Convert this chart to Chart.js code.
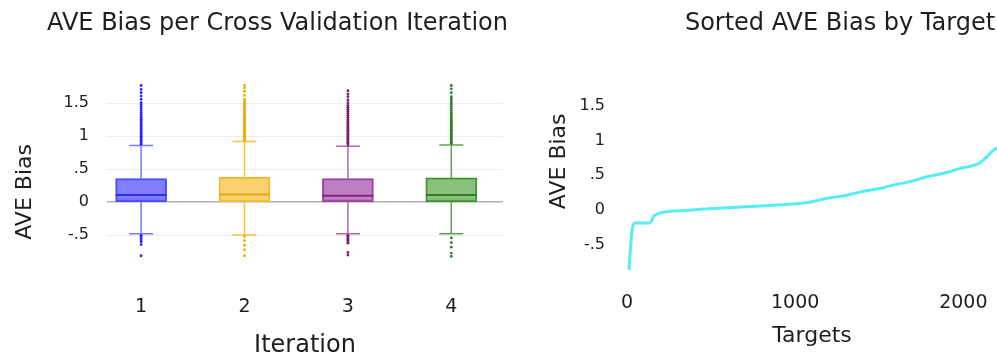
<!DOCTYPE html>
<html>
<head>
<meta charset="utf-8">
<script src="https://cdn.jsdelivr.net/npm/chart.js@4"></script>
<style>
html,body{margin:0;padding:0;background:#fff;overflow:hidden;width:997px;height:357px;}
#boxChart{position:absolute;left:0;top:0;}
#sortChart{position:absolute;left:530px;top:0;}
</style>
</head>
<body>
<canvas id="boxChart" width="555" height="357"></canvas>
<canvas id="sortChart" width="620" height="357"></canvas>
<script>
// box plot per cross validation iteration
const iterations = [1, 2, 3, 4];
const xTickLabels = ["1", "2", "3", "4"];
const q1 = [0.01, 0.01, 0.01, 0.01];
const medians = [0.11, 0.12, 0.10, 0.11];
const q3 = [0.36, 0.38, 0.36, 0.37];
const whiskerLow = [-0.475, -0.495, -0.475, -0.475];
const whiskerHigh = [0.86, 0.92, 0.85, 0.87];

const outliersIter1 = [0.88,0.9,0.92,0.94,0.96,0.98,1.0,1.02,1.04,1.06,1.08,1.1,1.12,1.14,1.16,1.18,1.2,1.22,1.24,1.26,1.28,1.3,1.33,1.36,1.39,1.42,1.45,1.48,1.51,1.56,1.61,1.66,1.71,1.77,-0.5,-0.52,-0.54,-0.57,-0.6,-0.64,-0.81];
const outliersIter2 = [0.94,0.96,0.98,1.0,1.02,1.04,1.06,1.08,1.1,1.12,1.14,1.16,1.18,1.2,1.22,1.24,1.26,1.28,1.3,1.32,1.35,1.38,1.41,1.44,1.47,1.5,1.53,1.56,1.62,1.68,1.73,1.77,-0.52,-0.58,-0.65,-0.72,-0.81];
const outliersIter3 = [0.87,0.89,0.91,0.93,0.95,0.97,0.99,1.01,1.03,1.05,1.07,1.09,1.11,1.13,1.15,1.17,1.19,1.21,1.23,1.26,1.29,1.32,1.35,1.38,1.41,1.44,1.47,1.51,1.55,1.6,1.64,1.69,-0.5,-0.52,-0.54,-0.56,-0.58,-0.6,-0.62,-0.76,-0.8];
const outliersIter4 = [0.89,0.91,0.93,0.95,0.97,0.99,1.01,1.03,1.05,1.07,1.09,1.11,1.13,1.15,1.17,1.19,1.21,1.23,1.25,1.27,1.3,1.33,1.36,1.39,1.42,1.45,1.48,1.51,1.54,1.57,1.6,1.66,1.72,1.77,-0.54,-0.61,-0.68,-0.77,-0.82];

const biasTicks = [-0.5, 0, 0.5, 1, 1.5];
const biasTickLabels = ["-.5", "0", ".5", "1", "1.5"];

// sorted bias by target
const sortedTargets = [12,16,20,24,28,34,42,48,137,147,157,170,186,210,236,300,435,600,792,990,1100,1189,1300,1387,1500,1585,1700,1784,1900,1982,2040,2082,2110,2141,2170,2200];
const sortedBias = [-0.86,-0.7,-0.58,-0.46,-0.34,-0.24,-0.195,-0.185,-0.185,-0.15,-0.1,-0.07,-0.05,-0.035,-0.025,-0.012,0.01,0.035,0.058,0.086,0.12,0.17,0.21,0.26,0.31,0.36,0.42,0.48,0.54,0.6,0.63,0.66,0.7,0.77,0.84,0.9];
const targetTicks = [0, 1000, 2000];
const targetTickLabels = ["0", "1000", "2000"];

const outliers = [outliersIter1, outliersIter2, outliersIter3, outliersIter4];
const boxFill = ["rgba(95,95,255,0.8)", "rgba(250,200,85,0.85)", "rgba(175,95,180,0.8)", "rgba(110,180,95,0.82)"];
const boxBorder = ["#4a4af5", "#f2b82c", "#963c9c", "#3f8f32"];
const medianColor = ["#3030e0", "#e0a820", "#7f237f", "#2f7f25"];
const whiskerColor = ["#7878ff", "#f5c23e", "#ad68b0", "#5da451"];
const outlierColor = ["#2626ff", "#f0a800", "#7a1a7a", "#2b8020"];

const FONT = "'DejaVu Sans', 'Liberation Sans', sans-serif";
const INK = "#1e1e1e";
Chart.defaults.font.family = FONT;
Chart.defaults.color = INK;

function boxDatasets(){
    const capHalf = 0.116;
    const boxHalf = 0.245;
    const sets = [{
        type:"bar",
        data: iterations.map((it, i) => ({x: it, y: [q1[i], q3[i]]})),
        backgroundColor: boxFill,
        borderColor: boxBorder,
        borderWidth: 1.5,
        borderSkipped: false,
        barThickness: 51,
        order: 2
    }];
    iterations.forEach((it, i) => {
        sets.push({
            type:"line",
            data:[{x: it - boxHalf, y: medians[i]}, {x: it + boxHalf, y: medians[i]}],
            borderColor: medianColor[i],
            borderWidth: 2,
            pointRadius: 0,
            order: 1
        });
        sets.push({
            type:"line",
            data:[
                {x: it, y: whiskerHigh[i]}, {x: it, y: q3[i]}, {x: it, y: null},
                {x: it, y: q1[i]}, {x: it, y: whiskerLow[i]}, {x: it, y: null},
                {x: it - capHalf, y: whiskerHigh[i]}, {x: it + capHalf, y: whiskerHigh[i]}, {x: it, y: null},
                {x: it - capHalf, y: whiskerLow[i]}, {x: it + capHalf, y: whiskerLow[i]}
            ],
            borderColor: whiskerColor[i],
            borderWidth: 1.5,
            pointRadius: 0,
            spanGaps: false,
            order: 3
        });
        sets.push({
            type:"scatter",
            data: outliers[i].map(v => ({x: it, y: v})),
            pointRadius: 1.4,
            pointBackgroundColor: outlierColor[i],
            pointBorderWidth: 0,
            order: 0
        });
    });
    return sets;
}

function padAxis(w){
    return {
        position:"right",
        display:true,
        grid:{display:false},
        ticks:{display:false},
        border:{display:false},
        afterFit: s => { s.width = w; }
    };
}

new Chart(
    document.getElementById("boxChart"),
    {
        type:"bar",
        data:{ datasets: boxDatasets() },
        options:{
            responsive:false,
            animation:false,
            devicePixelRatio:1,
            layout:{padding:0},
            plugins:{
                legend:{display:false},
                tooltip:{enabled:false},
                title:{
                    display:true,
                    text:"AVE Bias per Cross Validation Iteration",
                    color:INK,
                    font:{size:24, weight:"normal"},
                    padding:{top:9.6, bottom:41.8}
                }
            },
            scales:{
                x:{
                    type:"linear",
                    offset:false,
                    min:0.67,
                    max:4.5,
                    grid:{display:false},
                    border:{display:false},
                    afterBuildTicks: s => { s.ticks = iterations.map(v => ({value:v})); },
                    ticks:{font:{size:19}, padding:26, maxRotation:0, color:INK,
                        callback:(v, i) => xTickLabels[i]},
                    title:{display:true, text:"Iteration", color:INK,
                        font:{size:24, lineHeight:0.9}, padding:0},
                    afterFit: s => { s.height = 95.3; }
                },
                y:{
                    min:-0.9,
                    max:1.85,
                    border:{display:false},
                    grid:{
                        drawTicks:false,
                        color: c => c.tick && c.tick.value === 0 ? "#b0b0b0" : "#eeeeee",
                        lineWidth: c => c.tick && c.tick.value === 0 ? 1.6 : 1
                    },
                    afterBuildTicks: s => { s.ticks = biasTicks.map(v => ({value:v})); },
                    ticks:{font:{size:16}, padding:18, color:INK,
                        callback:(v, i) => biasTickLabels[i]},
                    title:{display:true, text:"AVE Bias" + "\u00a0".repeat(6), color:INK,
                        font:{size:22}, padding:{top:11.8, bottom:0}},
                    afterFit: s => { s.width = 107; }
                },
                pad: padAxis(52)
            }
        }
    }
);

new Chart(
    document.getElementById("sortChart"),
    {
        type:"line",
        data:{
            datasets:[
                {
                    data: sortedTargets.map((t, i) => ({x: t, y: sortedBias[i]})),
                    borderColor:"#55eef4",
                    borderWidth:3,
                    pointRadius:0,
                    cubicInterpolationMode:"monotone",
                    fill:false
                }
            ]
        },
        options:{
            responsive:false,
            animation:false,
            devicePixelRatio:1,
            layout:{padding:0},
            plugins:{
                legend:{display:false},
                tooltip:{enabled:false},
                title:{
                    display:true,
                    text:"Sorted AVE Bias by Target",
                    color:INK,
                    font:{size:24, weight:"normal"},
                    padding:{top:9.6, bottom:46.6}
                }
            },
            scales:{
                x:{
                    type:"linear",
                    min:0,
                    max:2200,
                    grid:{display:false},
                    border:{display:false},
                    afterBuildTicks: s => { s.ticks = targetTicks.map(v => ({value:v})); },
                    ticks:{font:{size:19}, padding:11, maxRotation:0, color:INK,
                        callback:(v, i) => targetTickLabels[i]},
                    title:{display:true, text:"Targets", color:INK,
                        font:{size:22}, padding:{top:0, bottom:7.8}},
                    afterFit: s => { s.height = 84.4; }
                },
                y:{
                    min:-0.9,
                    max:1.8,
                    grid:{display:false},
                    border:{display:false},
                    afterBuildTicks: s => { s.ticks = biasTicks.map(v => ({value:v})); },
                    ticks:{font:{size:16}, padding:14, color:INK,
                        callback:(v, i) => biasTickLabels[i]},
                    title:{display:true, text:"\u00a0".repeat(5) + "AVE Bias", color:INK,
                        font:{size:22}, padding:{top:15.8, bottom:0}},
                    afterFit: s => { s.width = 97; }
                },
                pad: padAxis(153)
            }
        }
    }
);
</script>
</body>
</html>
